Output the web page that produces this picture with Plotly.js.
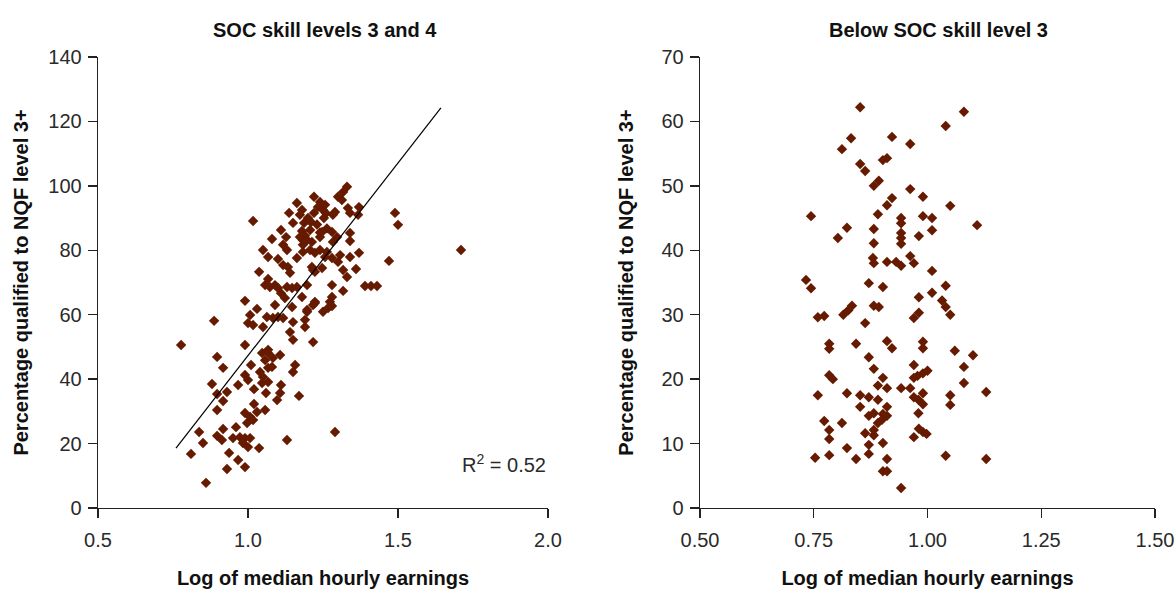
<!DOCTYPE html>
<html><head><meta charset="utf-8">
<script src="https://cdn.plot.ly/plotly-3.0.1.min.js"></script>
<style>html,body{margin:0;padding:0;background:#fff}#chart{width:1175px;height:590px}</style>
</head><body><div id="chart"></div>
<script>
// Left panel: SOC skill levels 3 and 4
const leftX = [1.22,1.137,1.017,1.163,1.18,1.2,1.22,1.187,1.15,1.11,1.08,1.117,1.127,1.13,1.183,1.207,1.213,1.05,1.067,1.1,1.163,1.183,1.117,1.133,1.213,1.223,1.037,1.14,1.067,1.057,1.073,1.09,1.1,1.13,1.147,1.163,1.197,1.217,1.11,1.123,1.18,0.99,1.09,1.03,1.147,1.223,1.197,1.007,1.063,1.083,1.1,1.117,1.0,1.017,1.05,1.15,1.19,1.14,1.15,1.217,0.887,0.777,0.99,1.067,
0.897,0.917,1.01,1.047,1.067,1.083,1.107,1.057,0.99,1.0,1.04,1.05,1.067,1.08,1.157,1.15,0.88,0.967,0.897,0.93,1.02,1.06,1.047,1.067,1.11,1.107,1.097,1.17,0.917,0.897,0.99,1.007,1.02,1.03,1.057,0.997,1.017,0.837,0.85,0.917,0.96,0.897,0.913,0.95,0.973,0.99,1.007,0.983,1.0,1.037,0.81,0.937,0.967,0.93,0.99,0.86,1.13,
1.33,1.317,1.3,1.313,1.24,1.233,1.25,1.257,1.173,1.2,1.23,1.253,1.263,1.24,1.18,1.21,1.26,1.19,1.29,1.283,1.333,1.34,1.37,1.367,1.49,1.5,1.71,1.47,1.28,1.34,1.34,1.297,1.283,1.24,1.247,1.173,1.197,1.183,1.207,1.24,1.263,1.257,1.28,1.307,1.34,1.37,1.3,1.223,1.247,1.317,1.33,1.36,1.39,1.41,1.43,1.28,1.317,1.28,1.273,1.223,1.217,1.197,1.19,1.25,1.267,1.28,1.29];
const leftY = [96.6,91.6,89.1,94.7,92.5,90.0,91.6,88.5,88.5,86.3,83.5,81.7,84.1,80.1,83.2,86.3,82.6,80.1,77.9,77.3,77.6,79.5,75.4,74.8,74.8,79.2,73.3,73.0,71.1,69.2,68.6,69.2,68.3,68.6,68.3,68.6,69.2,73.9,66.7,65.2,65.5,64.3,63.0,61.8,62.4,63.6,61.5,59.9,59.3,59.0,59.3,59.0,57.4,56.8,56.2,57.7,56.2,54.6,52.2,51.5,58.1,50.6,50.6,49.1,
46.9,43.5,44.4,48.1,48.1,46.6,47.5,45.9,41.3,39.7,42.2,40.7,43.5,43.8,44.4,42.2,38.5,38.2,35.4,36.0,36.9,35.7,38.8,39.1,38.2,35.7,33.5,34.8,33.2,30.4,29.5,28.3,32.3,29.8,30.4,26.4,27.3,23.6,20.2,24.5,25.1,22.4,21.1,21.7,22.0,21.7,21.7,20.2,18.9,18.6,16.8,17.1,14.9,12.1,12.7,7.8,21.1,
99.7,98.1,96.6,95.6,95.0,93.4,92.5,94.1,91.0,89.5,88.0,90.0,86.8,85.5,86.0,88.8,91.5,84.5,91.9,91.0,93.1,91.6,93.4,91.0,91.6,87.9,80.1,76.7,85.7,85.4,82.9,84.1,82.6,84.1,85.7,84.1,83.2,81.7,80.1,80.1,79.5,77.9,77.6,78.5,77.9,79.2,76.4,73.3,74.5,73.9,71.7,74.2,68.9,68.9,68.9,69.2,67.4,65.5,64.0,64.0,63.0,60.9,58.4,60.9,62.1,62.7,23.6];
// fitted line end points
const trendX = [0.76, 1.643];
const trendY = [18.6, 124.2];
const r2Label = 'R<sup>2</sup> = 0.52';

// Right panel: Below SOC skill level 3
const rightX = [0.744,0.733,0.744,0.759,0.759,0.753,
0.852,1.08,1.04,0.832,0.922,0.812,0.962,0.852,0.863,0.902,0.911,0.882,0.893,0.962,0.99,0.922,0.911,1.05,0.891,0.942,0.942,0.99,1.01,1.109,0.823,0.882,1.01,0.803,0.942,0.942,0.942,0.981,0.882,0.88,0.882,0.911,0.931,0.942,0.962,0.97,1.01,0.871,0.902,1.04,0.981,1.01,1.032,
1.04,1.05,0.882,0.893,0.815,0.826,0.834,0.773,0.981,0.97,0.863,0.784,0.784,0.843,0.911,0.922,0.99,0.99,1.06,1.10,0.871,0.97,1.08,0.882,1.0,0.99,0.978,0.97,0.784,0.792,0.902,0.891,0.911,0.942,0.962,1.08,
0.823,0.852,0.871,0.891,0.97,0.98,0.99,0.99,1.05,1.05,1.129,0.852,0.911,0.911,0.871,0.882,0.902,0.891,0.9,0.98,0.773,0.812,0.784,0.784,0.863,0.882,0.882,0.981,0.99,0.998,0.97,0.902,0.823,0.871,0.871,0.784,0.843,0.911,1.04,1.129,0.902,0.911,0.942];
const rightY = [45.3,35.4,34.1,29.6,17.5,7.8,
62.2,61.5,59.3,57.4,57.6,55.7,56.5,53.4,52.3,54.0,54.3,50.0,50.8,49.5,48.3,48.1,47.0,46.9,45.6,45.0,44.2,45.3,45.0,43.9,43.5,43.3,43.1,41.9,42.7,41.9,41.0,42.2,41.1,38.8,38.0,38.2,38.2,37.6,39.1,38.0,36.8,34.9,34.3,34.5,32.7,33.4,32.2,
31.2,30.0,31.4,31.2,30.0,30.7,31.4,29.8,30.3,29.5,28.7,25.5,24.7,25.5,25.9,24.8,25.8,24.8,24.4,23.7,23.4,22.2,21.9,21.6,21.3,20.9,20.5,20.2,20.6,20.0,20.2,19.0,18.6,18.6,18.6,19.4,
17.8,17.5,17.2,16.8,17.2,16.8,16.1,17.8,17.5,16.0,18.0,15.7,15.7,14.3,14.3,14.7,14.6,13.2,13.7,14.7,13.5,13.2,12.1,10.7,11.6,12.1,11.3,12.3,11.8,11.5,11.0,10.1,9.3,9.8,8.4,8.2,7.6,7.6,8.1,7.6,5.7,5.7,3.1];

const titles = ['SOC skill levels 3 and 4', 'Below SOC skill level 3'];
const xTitle = 'Log of median hourly earnings';
const yTitle = 'Percentage qualified to NQF level 3+';
const leftXTicks = [0.5, 1.0, 1.5, 2.0];
const leftYTicks = [0, 20, 40, 60, 80, 100, 120, 140];
const rightXTicks = [0.5, 0.75, 1.0, 1.25, 1.5];
const rightYTicks = [0, 10, 20, 30, 40, 50, 60, 70];

const FAM = 'Liberation Sans, Arial, sans-serif';
const mColor = '#661a00';
const marker = {symbol: 'diamond', size: 8, color: mColor, line: {width: 0}};
const tickFont = {family: FAM, size: 20, color: '#2a2a2a'};
const titleFont = {family: FAM, size: 20, color: '#111', weight: 'bold'};

const data = [
  {type: 'scatter', mode: 'markers', x: leftX, y: leftY, xaxis: 'x', yaxis: 'y', marker: marker, hoverinfo: 'x+y'},
  {type: 'scatter', mode: 'lines', x: trendX, y: trendY, xaxis: 'x', yaxis: 'y', line: {color: '#000', width: 1.2}, hoverinfo: 'skip'},
  {type: 'scatter', mode: 'markers', x: rightX, y: rightY, xaxis: 'x2', yaxis: 'y2', marker: marker, hoverinfo: 'x+y'}
];

function axisCommon() {
  return {showgrid: false, zeroline: false, showline: true, linecolor: '#222', linewidth: 1.3,
    ticks: 'outside', ticklen: 9, tickwidth: 1.3, tickcolor: '#222', tickfont: tickFont, fixedrange: true};
}

const layout = {
  width: 1175, height: 590, showlegend: false,
  paper_bgcolor: '#fff', plot_bgcolor: '#fff',
  margin: {l: 0, r: 0, t: 0, b: 0},
  font: {family: FAM},
  xaxis: Object.assign(axisCommon(), {domain: [98/1175, 548/1175], range: [0.5, 2.0], tickvals: leftXTicks, tickformat: '.1f', anchor: 'y',
    ticklabelstandoff: 5, title: {text: xTitle, font: titleFont, standoff: 20}}),
  yaxis: Object.assign(axisCommon(), {domain: [82/590, 533/590], range: [0, 140], tickvals: leftYTicks, anchor: 'x',
    ticklabelstandoff: 2, title: {text: yTitle, font: titleFont, standoff: 14}}),
  xaxis2: Object.assign(axisCommon(), {domain: [700/1175, 1155/1175], range: [0.5, 1.5], tickvals: rightXTicks, tickformat: '.2f', anchor: 'y2',
    ticklabelstandoff: 5, title: {text: xTitle, font: titleFont, standoff: 20}}),
  yaxis2: Object.assign(axisCommon(), {domain: [82/590, 533/590], range: [0, 70], tickvals: rightYTicks, anchor: 'x2',
    ticklabelstandoff: 2, title: {text: yTitle, font: titleFont, standoff: 22}}),
  annotations: [
    {text: titles[0], xref: 'paper', yref: 'paper', x: 325/1175, y: (590-30)/590, xanchor: 'center', yanchor: 'middle', showarrow: false,
      font: {family: FAM, size: 20, color: '#111', weight: 'bold'}},
    {text: titles[1], xref: 'paper', yref: 'paper', x: 938/1175, y: (590-30)/590, xanchor: 'center', yanchor: 'middle', showarrow: false,
      font: {family: FAM, size: 20, color: '#111', weight: 'bold'}},
    {text: r2Label, xref: 'x', yref: 'y', x: 2.0, y: 13.7, xanchor: 'right', yanchor: 'middle', showarrow: false,
      font: {family: FAM, size: 20, color: '#2a2a2a'}}
  ]
};

Plotly.newPlot('chart', data, layout, {displayModeBar: false, staticPlot: true});
</script></body></html>
